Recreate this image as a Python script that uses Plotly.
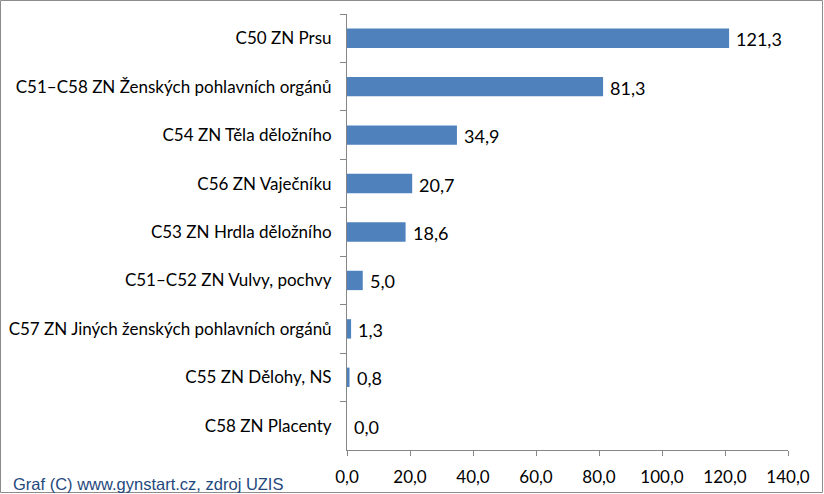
import plotly.graph_objects as go

# data =========================================
categories = [
    "C50 ZN Prsu",
    "C51–C58 ZN Ženských pohlavních orgánů",
    "C54 ZN Těla děložního",
    "C56 ZN Vaječníku",
    "C53 ZN Hrdla děložního",
    "C51–C52 ZN Vulvy, pochvy",
    "C57 ZN Jiných ženských pohlavních orgánů",
    "C55 ZN Dělohy, NS",
    "C58 ZN Placenty",
]
values = [121.3, 81.3, 34.9, 20.7, 18.6, 5.0, 1.3, 0.8, 0.0]
x_ticks = [0, 20, 40, 60, 80, 100, 120, 140]
footer = "Graf (C) www.gynstart.cz, zdroj UZIS"

W, H = 824, 494
L, R, T, B = 347, 36, 14, 44
pw, ph = W - L - R, H - T - B

def fmt(v):
    return f"{v:.1f}".replace(".", ",")

fig = go.Figure(go.Bar(
    x=values,
    y=categories,
    orientation="h",
    marker=dict(color="#4F81BD", line=dict(width=0)),
))

# value labels right of the bars
for c, v in zip(categories, values):
    fig.add_annotation(
        x=v, y=c, text=fmt(v), showarrow=False,
        xanchor="left", yanchor="middle", xshift=5, yshift=-1,
        font=dict(family="Lato", size=18, color="#000000"),
    )

axis_col = "#868686"
fig.update_layout(
    width=W, height=H,
    margin=dict(l=L, r=R, t=T, b=B, autoexpand=False),
    paper_bgcolor="white", plot_bgcolor="white",
    showlegend=False,
    bargap=0.6,
    font=dict(family="Lato", size=16, color="#000000"),
    xaxis=dict(
        range=[0, 140], tickvals=x_ticks,
        ticktext=[fmt(v) for v in x_ticks],
        showgrid=False, zeroline=False,
        showline=True, linecolor=axis_col, linewidth=1,
        ticks="outside", ticklen=5, tickcolor=axis_col,
        ticklabelstandoff=7,
        tickfont=dict(family="Lato", size=17),
    ),
    yaxis=dict(
        autorange="reversed",
        showgrid=False, zeroline=False,
        showline=True, linecolor=axis_col, linewidth=1,
        ticks="outside", ticklen=6, tickcolor=axis_col,
        tickson="boundaries", ticklabelstandoff=11,
        tickfont=dict(family="Lato", size=17),
    ),
)

# outer frame of the whole picture
fig.add_shape(
    type="rect", xref="paper", yref="paper",
    x0=(0.5 - L) / pw, x1=(W - 1.5 - L) / pw,
    y0=(H - B - (H - 1.5)) / ph, y1=(H - B - 0.5) / ph,
    line=dict(color="#8C8C8C", width=1), fillcolor="rgba(0,0,0,0)",
)

fig.add_annotation(
    text=footer, xref="paper", yref="paper",
    x=(11 - L) / pw, y=(H - B - 484) / ph,
    xanchor="left", yanchor="middle", showarrow=False,
    font=dict(family="Liberation Sans", size=16.5, color="#1F497D"),
)

fig.write_html("out.html", config={"displayModeBar": False},
               post_script="document.body.style.margin='0';")
